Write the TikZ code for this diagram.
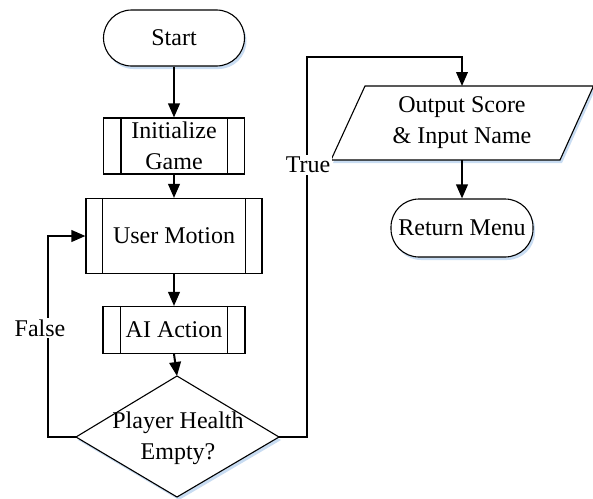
\documentclass[tikz,border=0pt]{standalone}
\usepackage{fontspec}
\setmainfont{Liberation Serif}
\newfontfamily\tnr{Liberation Serif}
\usetikzlibrary{arrows.meta,shadows,calc}
\definecolor{shd}{RGB}{200,220,242}
\begin{document}
\begin{tikzpicture}[x=0.5pt,y=-0.5pt,
  every node/.style={font=\tnr\fontsize{12}{15.5}\selectfont},
  box/.style={draw, line width=0.55pt, align=center, inner sep=0pt, fill=white},
  term/.style={box, rounded corners=14pt, general shadow={fill=shd, shadow xshift=1pt, shadow yshift=-1.5pt}},
  proc/.style={box},
  conn/.style={line width=1pt, -{Triangle[length=7pt,width=5.8pt]}},
  lbl/.style={fill=white, inner sep=1pt}]
\useasboundingbox (0,0) rectangle (593,498);

% nodes
\node[term, minimum width=70.5pt, minimum height=28pt] (start) at (174,38) {Start};
\node[proc, minimum width=70.5pt, minimum height=28pt] (init) at (174,146) {Initialize\\Game};
\node[proc, minimum width=88pt, minimum height=37.5pt] (um) at (174,236) {User Motion};
\node[proc, minimum width=71pt, minimum height=23.5pt] (ai) at (174,330) {AI Action};
\foreach \n/\d in {init/9pt, um/8.5pt, ai/9pt}{
  \draw[line width=0.55pt] ([xshift=\d]\n.north west) -- ([xshift=\d]\n.south west);
  \draw[line width=0.55pt] ([xshift=-\d]\n.north east) -- ([xshift=-\d]\n.south east);
}

% decision diamond
\coordinate (dtop) at (177,376);
\coordinate (dright) at (279,437);
\coordinate (dbot) at (177,497);
\coordinate (dleft) at (76,437);
\fill[shd] ($(dtop)+(2,3)$) -- ($(dright)+(2,3)$) -- ($(dbot)+(2,3)$) -- ($(dleft)+(2,3)$) -- cycle;
\draw[line width=0.55pt, fill=white] (dtop) -- (dright) -- (dbot) -- (dleft) -- cycle;
\node[align=center, inner sep=0pt] (dec) at (178,438) {Player Health\\Empty?};

% output parallelogram
\coordinate (ptl) at (365,86);
\coordinate (ptr) at (593.5,86);
\coordinate (pbr) at (560,160);
\coordinate (pbl) at (331,160);
\coordinate (ptop) at (462,86);
\coordinate (pbot) at (462,160);
\fill[shd] ($(ptl)+(2,3)$) -- ($(ptr)+(2,3)$) -- ($(pbr)+(2,3)$) -- ($(pbl)+(2,3)$) -- cycle;
\draw[line width=0.55pt, fill=white] (ptl) -- (ptr) -- (pbr) -- (pbl) -- cycle;
\node[align=center, inner sep=0pt] (out) at (462,123) {Output Score\\\& Input Name};

\node[term, minimum width=71pt, minimum height=29pt] (ret) at (462,228) {Return Menu};

% connectors
\draw[conn] (start) -- (init);
\draw[conn] (init) -- (um);
\draw[conn] (um) -- (ai);
\draw[conn] (ai.south) -- (dtop);
\draw[conn] (dleft) -- (48,437) |- (um.west);
\draw[conn] (dright) -| (307,57) -| (ptop);
\draw[conn] (pbot) -- (ret.north);

% labels
\node[lbl] (false) at (40,328) {False};
\node[lbl] (true) at (308,165) {True};
\end{tikzpicture}
\end{document}
